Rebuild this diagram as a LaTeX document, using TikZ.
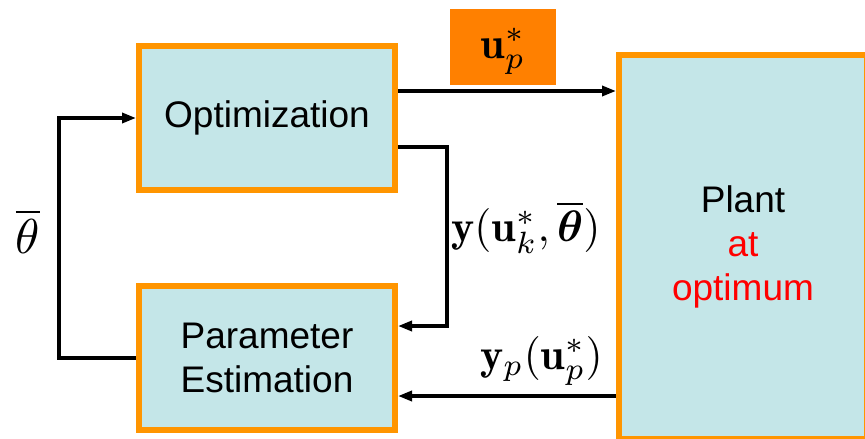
\documentclass[tikz,border=0pt]{standalone}
\usepackage{graphicx}
\usepackage{amsmath,bm}
\usepackage{fontspec}
\newfontfamily\boxfont{Liberation Sans}
\usetikzlibrary{arrows.meta}
\definecolor{boxfill}{RGB}{196,230,232}
\definecolor{boxedge}{RGB}{255,149,0}
\definecolor{labfill}{RGB}{255,128,0}
\newcommand{\bigmath}[2][4.4]{\scalebox{#1}{$#2$}}
\begin{document}
\begin{tikzpicture}[x=1pt,y=-1pt,
  blk/.style={draw=boxedge,fill=boxfill,line width=6pt,inner sep=0pt,
    font=\boxfont\fontsize{37}{44}\selectfont,align=center},
  arr/.style={line width=3.4pt,-{Triangle[length=14pt,width=10pt]}},
  mlab/.style={inner sep=0pt,font=\fontsize{10}{12}\selectfont}]
\useasboundingbox (0,0) rectangle (865,439);
\clip (0,0) rectangle (865,439);
\node[blk,minimum width=256pt,minimum height=144pt] (opt) at (267,118) {Optimization};
\node[blk,minimum width=256pt,minimum height=144pt] (pe) at (267,358) {Parameter\\Estimation};
\node[blk,minimum width=248pt,minimum height=384pt] (plant) at (743,247) {Plant\\\textcolor{red}{at}\\\textcolor{red}{optimum}};
\node[fill=labfill,minimum width=106pt,minimum height=76pt,inner sep=0pt] (ubox) at (503,47) {};
\node[mlab,anchor=base] (ulab) at (503,58) {\bigmath{\mathbf{u}_p^*}};
\node[mlab,anchor=base] (thlab) at (28,253) {\bigmath[4.9]{\overline{\theta}}};
\node[mlab,anchor=base west] (ylab) at (451,241) {\bigmath{\mathbf{y}(\mathbf{u}_k^*,\overline{\bm{\theta}})}};
\node[mlab,anchor=base west] (yplab) at (480,369) {\bigmath{\mathbf{y}_p(\mathbf{u}_p^*)}};
\draw[arr] ([yshift=27pt]opt.east) -- ([yshift=27pt]opt.east -| plant.west);
\draw[arr] ([yshift=-29pt]opt.east) -- ++(49,0) |- ([yshift=32pt]pe.east);
\draw[arr] ([yshift=-38pt]pe.east -| plant.west) -- ([yshift=-38pt]pe.east);
\draw[arr] (pe.west) -- ++(-77,0) |- (opt.west);
\end{tikzpicture}
\end{document}
